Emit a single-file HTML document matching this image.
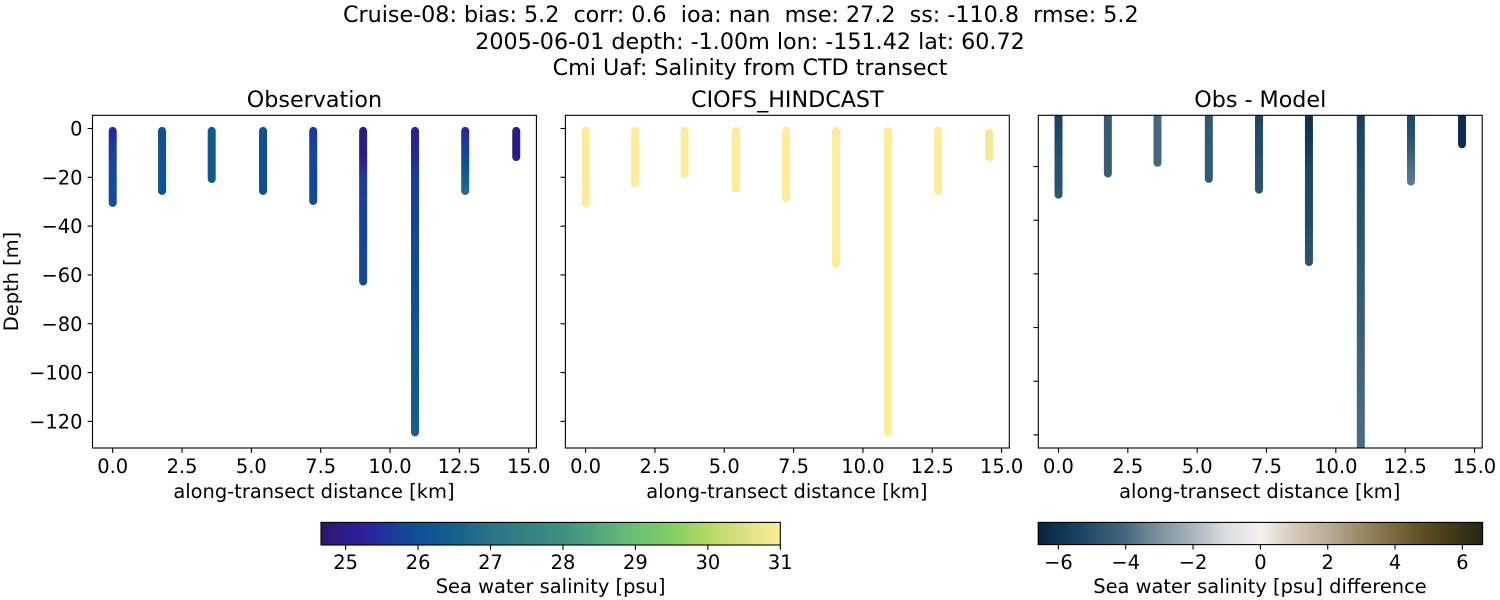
<!DOCTYPE html>
<html>
<head>
<meta charset="utf-8">
<title>Cruise-08 salinity transect</title>
<style>
html,body{margin:0;padding:0;background:#fff;width:1500px;height:600px;overflow:hidden}
svg{display:block}
text{font-family:"DejaVu Sans","Liberation Sans",sans-serif;font-size:19.44px;fill:#000;white-space:pre}
text.big{font-size:22.22px}
</style>
</head>
<body>
<svg id="chart" xmlns="http://www.w3.org/2000/svg" width="1500" height="600" viewBox="0 0 1500 600">
  <rect width="1500" height="600" fill="#fff"/>
  <defs id="defs"></defs>
  <text class="big" x="343" y="22" xml:space="preserve">Cruise-08: bias: 5.2  corr: 0.6  ioa: nan  mse: 27.2  ss: -110.8  rmse: 5.2</text>
  <text class="big" x="750" y="49" text-anchor="middle">2005-06-01 depth: -1.00m lon: -151.42 lat: 60.72</text>
  <text class="big" x="750" y="75" text-anchor="middle">Cmi Uaf: Salinity from CTD transect</text>
  <g id="plots"></g>
</svg>
<script>
// ---- data ----
const castDistances = [0, 1.78, 3.57, 5.42, 7.23, 9.03, 10.9, 12.71, 14.55];
const xTickValues = [0, 2.5, 5, 7.5, 10, 12.5, 15];
const yTickValues = [0, -20, -40, -60, -80, -100, -120];
const obsTickValues = [25, 26, 27, 28, 29, 30, 31];
const diffTickValues = [-6, -4, -2, 0, 2, 4, 6];

const obsDepths = [
  [-1, -8, -18, -30.5],
  [-1, -12, -25.6],
  [-1, -10, -20.7],
  [-1, -12, -25.6],
  [-1, -10, -20, -29.7],
  [-1, -10, -15, -20, -40, -62.7],
  [-1, -10, -20, -60, -90, -124.5],
  [-1, -8, -15, -20, -25.6],
  [-1, -6, -11.7]
];
const obsValues = [
  [25.4, 25.65, 25.9, 26.0],
  [26.0, 26.05, 26.05],
  [26.3, 26.3, 26.3],
  [26.0, 26.0, 26.0],
  [25.6, 25.8, 25.9, 25.9],
  [24.85, 24.95, 25.2, 25.65, 25.75, 25.85],
  [25.1, 25.4, 25.65, 25.95, 26.2, 26.45],
  [25.3, 25.7, 26.0, 26.4, 26.8],
  [24.95, 24.95, 24.95]
];

const modelDepths = [
  [-1, -15, -30.5],
  [-1, -12, -22.6],
  [-1, -10, -18.6],
  [-1, -12, -24.6],
  [-1, -15, -28.6],
  [-1, -30, -55.6],
  [-1, -60, -124.5],
  [-1, -12, -25.6],
  [-2, -7, -11.7]
];
const modelValues = [
  [31, 31, 31],
  [31, 31, 31],
  [31, 31, 31],
  [31, 31, 31],
  [31, 31, 31],
  [31, 31, 31],
  [31, 31, 31],
  [31, 31, 31],
  [30.87, 30.87, 30.87]
];

const diffDepths = [
  [-1, -15, -30.5],
  [-1, -12, -22.6],
  [-1, -10, -18.6],
  [-1, -12, -24.6],
  [-1, -15, -28.6],
  [-1, -10, -20, -40, -55.6],
  [-1, -20, -60, -100, -124.5],
  [-1, -12, -20, -25.6],
  [-1, -6, -11.7]
];
const diffValues = [
  [-5.5, -5.0, -4.7],
  [-4.5, -4.4, -4.4],
  [-4.0, -4.0, -4.0],
  [-4.7, -4.6, -4.6],
  [-5.3, -5.0, -4.8],
  [-6.1, -5.8, -5.3, -5.1, -4.8],
  [-5.6, -5.1, -4.6, -4.1, -3.9],
  [-5.3, -4.6, -3.9, -3.6],
  [-6.2, -6.2, -6.2]
];

// colormap anchor colours, low to high
const halineColors = ["#2a186c","#2e1f98","#2428a0","#16439c","#0e4f96","#125f8e","#2a7389","#3f9080","#52a67c","#68c174","#8ad05f","#b5d864","#fdec98"];
const halineAnchors = [0, 0.08, 0.12, 0.17, 0.21, 0.28, 0.37, 0.527, 0.6, 0.684, 0.78, 0.84, 1];
const diffColors = ["#07233f","#174463","#45687f","#7a919f","#aab5bd","#d9dde0","#f4f1ee","#d6cbb9","#b9ad93","#9a8a64","#7a6a3c","#574a1c","#242610"];
const diffAnchors = [0, 0.09, 0.197, 0.27, 0.35, 0.42, 0.5, 0.576, 0.65, 0.727, 0.8, 0.88, 1];

// ---- helpers ----
const NS = "http://www.w3.org/2000/svg";
const plots = document.getElementById("plots");
const defs = document.getElementById("defs");
function make(tag, attrs, parent) {
  const el = document.createElementNS(NS, tag);
  for (const k in attrs) el.setAttribute(k, attrs[k]);
  (parent || plots).appendChild(el);
  return el;
}
function hexToRgb(h) { return [1, 3, 5].map(i => parseInt(h.substr(i, 2), 16)); }
function colorAt(t, anchors, colors) {
  t = Math.max(0, Math.min(1, t));
  for (let i = 1; i < anchors.length; i++) {
    if (t <= anchors[i]) {
      const f = (t - anchors[i - 1]) / (anchors[i] - anchors[i - 1]);
      const a = hexToRgb(colors[i - 1]), b = hexToRgb(colors[i]);
      return "rgb(" + a.map((v, j) => Math.round(v + (b[j] - v) * f)).join(",") + ")";
    }
  }
  return colors[colors.length - 1];
}
function fmtTick(v, decimals) {
  const s = Math.abs(v).toFixed(decimals);
  return (v < 0 ? "\u2212" : "") + s;
}

const obsRange = [24.66, 31];
const diffRange = [-6.6, 6.6];
const obsColor = v => colorAt((v - obsRange[0]) / (obsRange[1] - obsRange[0]), halineAnchors, halineColors);
const diffColor = v => colorAt((v - diffRange[0]) / (diffRange[1] - diffRange[0]), diffAnchors, diffColors);

const TOP = 115.3, BOTTOM = 448, WIDTH = 443.9;
const X_DOMAIN = [-0.728, 15.277];

function drawPanel(key, title, left, yDomain, depths, values, colorFn, showYLabels) {
  const group = make("g", {});
  
  
  const xScale = d => left + (d - X_DOMAIN[0]) / (X_DOMAIN[1] - X_DOMAIN[0]) * WIDTH;
  const yScale = d => TOP + (yDomain[1] - d) / (yDomain[1] - yDomain[0]) * (BOTTOM - TOP);

  const clip = make("clipPath", { id: "clip-" + key }, defs);
  make("rect", { x: left, y: TOP, width: WIDTH, height: BOTTOM - TOP }, clip);

  const marks = make("g", { "clip-path": "url(#clip-" + key + ")" }, group);
  castDistances.forEach((dist, i) => {
    const ds = depths[i], vs = values[i];
    const x = xScale(dist);
    const y1 = yScale(ds[0]), y2 = yScale(ds[ds.length - 1]);
    const grad = make("linearGradient", {
      id: "grad-" + key + "-" + i, gradientUnits: "userSpaceOnUse",
      x1: 0, x2: 0, y1: y1, y2: y2
    }, defs);
    ds.forEach((d, j) => {
      make("stop", { offset: (yScale(d) - y1) / (y2 - y1), "stop-color": colorFn(vs[j]) }, grad);
    });
    const line = make("line", {
      x1: x, x2: x + 0.001, y1: y1, y2: y2,
      stroke: "url(#grad-" + key + "-" + i + ")",
      "stroke-width": 8, "stroke-linecap": "round"
    }, marks);
    
    
  });

  xTickValues.forEach(v => {
    const x = xScale(v);
    const tick = make("line", { x1: x, x2: x, y1: BOTTOM, y2: BOTTOM + 4.9, stroke: "#000", "stroke-width": 1.1 }, group);
    
    
    const label = make("text", { x: x, y: 473, "text-anchor": "middle" }, group);
    label.textContent = v.toFixed(1);
    
    
  });
  yTickValues.forEach(v => {
    const y = yScale(v);
    if (y < TOP - 0.5) return;
    const tick = make("line", { x1: left - 4.9, x2: left, y1: y, y2: y, stroke: "#000", "stroke-width": 1.1 }, group);
    
    
    if (showYLabels) {
      const label = make("text", { x: left - 10, y: y + 7, "text-anchor": "end" }, group);
      label.textContent = fmtTick(v, 0);
      
      
    }
  });

  const frame = make("rect", { x: left, y: TOP, width: WIDTH, height: BOTTOM - TOP, fill: "none", stroke: "#000", "stroke-width": 1.1 }, group);
  
  

  const titleEl = make("text", { x: left + WIDTH / 2, y: 107, "text-anchor": "middle", "class": "big" }, group);
  titleEl.textContent = title;
  
  

  const xLabel = make("text", { x: left + WIDTH / 2 - 0.5, y: 498, "text-anchor": "middle" }, group);
  xLabel.textContent = "along-transect distance [km]";
  
  
}

function drawColorbar(key, left, right, top, bottom, range, anchors, colors, ticks, labelText, labelX) {
  const group = make("g", {});
  
  
  const scale = v => left + (v - range[0]) / (range[1] - range[0]) * (right - left);
  const grad = make("linearGradient", { id: "cb-" + key, x1: 0, x2: 1, y1: 0, y2: 0 }, defs);
  anchors.forEach((a, i) => make("stop", { offset: a, "stop-color": colors[i] }, grad));
  const bar = make("rect", { x: left, y: top, width: right - left, height: bottom - top, fill: "url(#cb-" + key + ")", stroke: "#000", "stroke-width": 1.1 }, group);
  
  
  ticks.forEach(v => {
    const x = scale(v);
    const tick = make("line", { x1: x, x2: x, y1: bottom, y2: bottom + 4.9, stroke: "#000", "stroke-width": 1.1 }, group);
    
    
    const label = make("text", { x: x, y: 569, "text-anchor": "middle" }, group);
    label.textContent = fmtTick(v, 0);
    
    
  });
  const title = make("text", { x: labelX, y: 593, "text-anchor": "middle" }, group);
  title.textContent = labelText;
  
  
}

drawPanel("observation", "Observation", 92.5, [-130.9, 5.4], obsDepths, obsValues, obsColor, true);
drawPanel("model", "CIOFS_HINDCAST", 565.4, [-130.9, 5.4], modelDepths, modelValues, obsColor, false);
drawPanel("difference", "Obs - Model", 1038.3, [-124.9, -0.9], diffDepths, diffValues, diffColor, false);

const yTitle = make("text", { x: 0, y: 0, "text-anchor": "middle", transform: "translate(18 281.5) rotate(-90)" });
yTitle.textContent = "Depth [m]";



drawColorbar("salinity", 321, 780.3, 522.4, 545, obsRange, halineAnchors, halineColors, obsTickValues, "Sea water salinity [psu]", 550.6);
drawColorbar("salinity-difference", 1038.2, 1482.6, 522.4, 544.6, diffRange, diffAnchors, diffColors, diffTickValues, "Sea water salinity [psu] difference", 1260);
</script>
</body>
</html>
